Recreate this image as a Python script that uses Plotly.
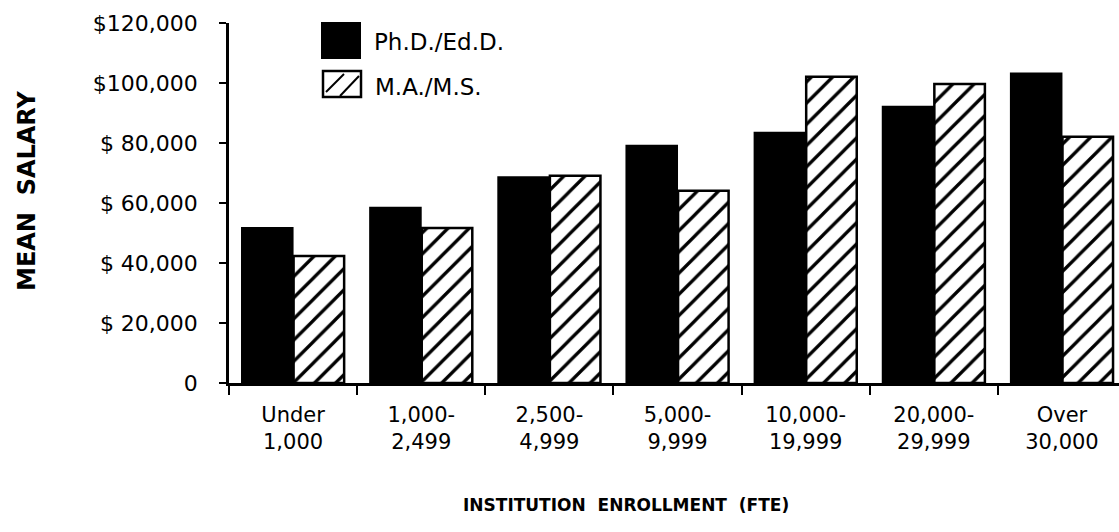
import plotly.graph_objects as go

# enrollment categories and mean salaries
enrollment = ["Under<br>1,000", "1,000-<br>2,499", "2,500-<br>4,999", "5,000-<br>9,999",
              "10,000-<br>19,999", "20,000-<br>29,999", "Over<br>30,000"]
phd_salary = [51700, 58400, 68600, 79100, 83400, 92100, 103200]
ma_salary = [42300, 51700, 69100, 64100, 102100, 99700, 82100]

y_ticks = [0, 20000, 40000, 60000, 80000, 100000, 120000]
y_tick_text = ["0", "$ 20,000", "$ 40,000", "$ 60,000", "$ 80,000", "$100,000", "$120,000"]

FONT = "DejaVu Sans"
W, H = 1119, 532
L, T, B = 229, 23, 383  # plot area in pixels


def px_x(p):
    return (p - L) / (W - L)


def px_y(p):
    return (B - p) / (B - T)


fig = go.Figure()
fig.add_trace(go.Bar(
    x=enrollment, y=phd_salary, name="Ph.D./Ed.D.",
    marker=dict(color="black", line=dict(color="black", width=2)),
))
fig.add_trace(go.Bar(
    x=enrollment, y=ma_salary, name="M.A./M.S.",
    marker=dict(color="white", line=dict(color="black", width=2.5),
                pattern=dict(shape="/", fgcolor="black", fgopacity=1, bgcolor="white",
                             size=15, solidity=0.22)),
))

# hand-drawn legend, larger swatches than plotly's built-in legend
shapes = [
    dict(type="rect", xref="paper", yref="paper",
         x0=px_x(322), x1=px_x(360), y0=px_y(58), y1=px_y(23),
         fillcolor="black", line=dict(color="black", width=2)),
    dict(type="rect", xref="paper", yref="paper",
         x0=px_x(323), x1=px_x(361), y0=px_y(97), y1=px_y(71),
         fillcolor="white", line=dict(color="black", width=2.5)),
    dict(type="line", xref="paper", yref="paper",
         x0=px_x(326), y0=px_y(92), x1=px_x(344), y1=px_y(74),
         line=dict(color="black", width=2)),
    dict(type="line", xref="paper", yref="paper",
         x0=px_x(340), y0=px_y(96), x1=px_x(359), y1=px_y(76),
         line=dict(color="black", width=2)),
]

annotations = [
    dict(text="Ph.D./Ed.D.", x=px_x(372), y=px_y(42), xref="paper", yref="paper",
         xanchor="left", yanchor="middle", showarrow=False, font=dict(family=FONT, size=23, color="black")),
    dict(text="M.A./M.S.", x=px_x(373), y=px_y(87), xref="paper", yref="paper",
         xanchor="left", yanchor="middle", showarrow=False, font=dict(family=FONT, size=23, color="black")),
    dict(text="<b>INSTITUTION  ENROLLMENT  (FTE)</b>", x=px_x(626), y=px_y(505), xref="paper", yref="paper",
         xanchor="center", yanchor="middle", showarrow=False, font=dict(family=FONT, size=17, color="black")),
    dict(text="<b>MEAN  SALARY</b>", x=px_x(27), y=px_y(191), xref="paper", yref="paper",
         xanchor="center", yanchor="middle", textangle=-90, showarrow=False,
         font=dict(family=FONT, size=24, color="black")),
]

fig.update_layout(
    width=W, height=H,
    margin=dict(l=L, r=0, t=T, b=H - B, pad=0),
    paper_bgcolor="white", plot_bgcolor="white",
    barmode="group", bargap=0.195, bargroupgap=0.02,
    showlegend=False,
    font=dict(family=FONT, size=21, color="black"),
    shapes=shapes, annotations=annotations,
)
fig.update_xaxes(
    type="category", range=[-0.5, 6.445], tickson="boundaries",
    ticks="outside", ticklen=9, tickwidth=2, tickcolor="black",
    showline=True, linecolor="black", linewidth=2.5, showgrid=False,
    tickfont=dict(family=FONT, size=21, color="black"), ticklabelstandoff=11,
)
fig.update_yaxes(
    range=[0, 120000], tickvals=y_ticks, ticktext=y_tick_text,
    ticks="outside", ticklen=7, tickwidth=2, tickcolor="black",
    showline=True, linecolor="black", linewidth=2.5, showgrid=False, zeroline=False,
    tickfont=dict(family=FONT, size=22, color="black"), ticklabelstandoff=17,
)

# the page's default body margin would shift the figure by 8px
fig.write_html("out.html", config={"displayModeBar": False},
               post_script="document.body.style.margin='0px';")
